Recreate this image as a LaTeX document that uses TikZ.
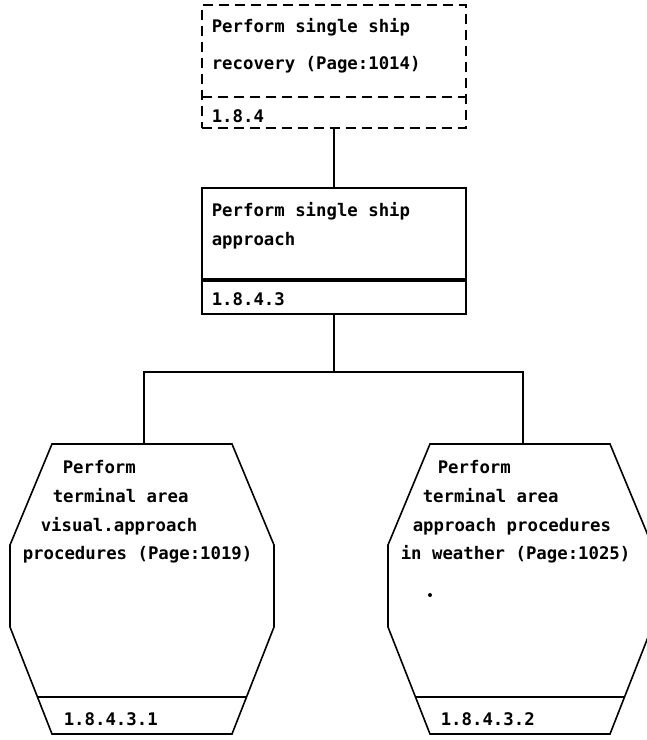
\documentclass[tikz,border=0pt]{standalone}
\usepackage{fontspec}
\newfontfamily\printfont{DejaVu Sans Mono}
\begin{document}
\begin{tikzpicture}[x=0.75pt,y=-0.75pt,line width=1.2pt,
    taskbox/.style={draw,minimum width=198pt,inner sep=0pt,outer sep=0pt},
    dashedbox/.style={dash pattern=on 7.5pt off 4.5pt},
    printtext/.style={font=\printfont\bfseries\fontsize{13}{21.5}\selectfont,inner sep=0pt,align=left},
    link/.style={line width=1pt}]
    \useasboundingbox (0,0) rectangle (647,740);

    % parent task
    \node[taskbox,dashedbox,minimum height=92.25pt] (rec) at (334,66.5) {};
    \draw[dashedbox] ([yshift=23.25pt]rec.south west) -- ([yshift=23.25pt]rec.south east);
    \node[printtext,anchor=north west] (rectext) at (211,18) {Perform single ship\\[6pt]recovery (Page:1014)};
    \node[printtext,anchor=base west] (recnum) at (211,122) {1.8.4};

    % this task
    \node[taskbox,minimum height=69.75pt] (app) at (334,234.5) {};
    \node[taskbox,minimum height=26.25pt,anchor=north,yshift=1.5pt] (appid) at (app.south) {};
    \node[printtext,anchor=north west] (apptext) at (211,202) {Perform single ship\\approach};
    \node[printtext,anchor=base west] (appnum) at (211,305) {1.8.4.3};

    % subtasks
    \draw (52,444) -- (232,444) -- (274,545) -- (274,627) -- (232,734) -- (52,734) -- (10,627) -- (10,545) -- cycle;
    \draw (38,697) -- (246,697);
    \coordinate (vistop) at (144,444);
    \node[printtext,anchor=north west] (vistext) at (22,460) {\hspace*{30pt}Perform\\\hspace*{22.5pt}terminal area\\\hspace*{13.5pt}visual.approach\\procedures (Page:1019)};
    \node[printtext,anchor=base west] (visnum) at (63,725) {1.8.4.3.1};

    \draw (430,444) -- (610,444) -- (652,545) -- (652,627) -- (610,734) -- (430,734) -- (388,627) -- (388,545) -- cycle;
    \draw (416,697) -- (624,697);
    \coordinate (wxtop) at (523,444);
    \node[printtext,anchor=north west] (wxtext) at (400,460) {\hspace*{27.75pt}Perform\\\hspace*{16.5pt}terminal area\\\hspace*{9pt}approach procedures\\in weather (Page:1025)};
    \node[printtext,anchor=base west] (wxnum) at (440,725) {1.8.4.3.2};
    \fill (430,595) circle[radius=1.5pt];

    % links
    \coordinate (bar) at (334,372);
    \draw[link] (rec) -- (app);
    \draw[link] (appid) -- (bar);
    \draw[link] (vistop) |- (bar) -| (wxtop);
\end{tikzpicture}
\end{document}
